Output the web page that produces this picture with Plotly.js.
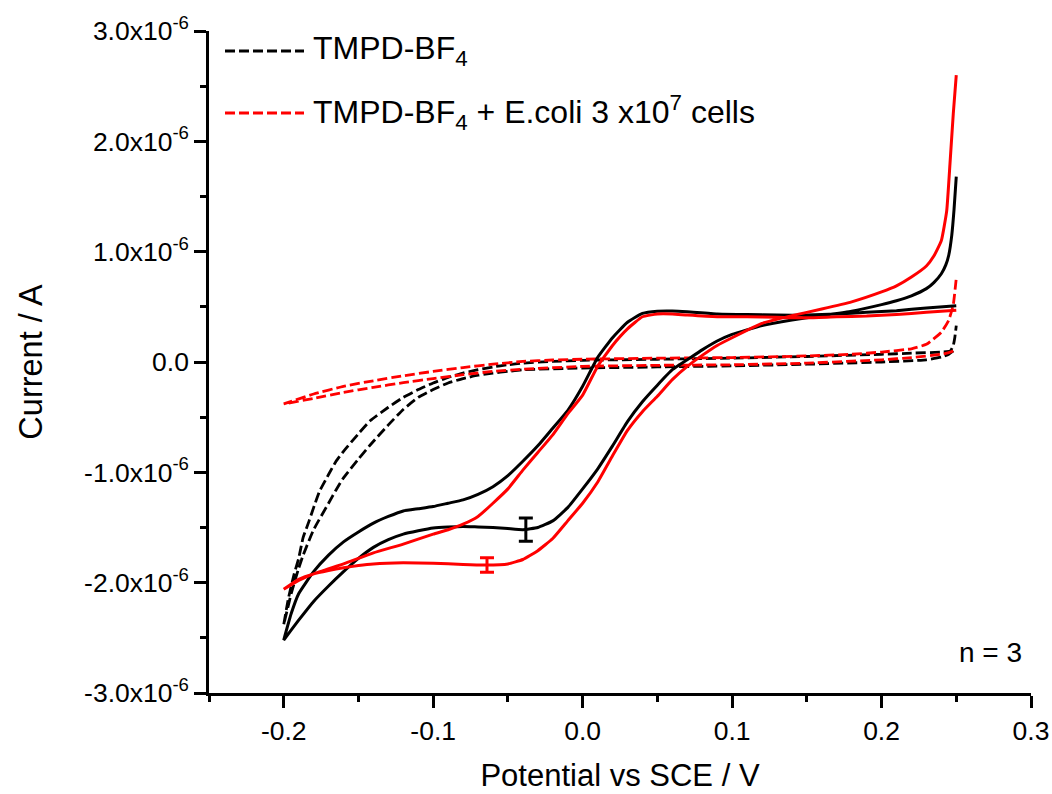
<!DOCTYPE html>
<html>
<head>
<meta charset="utf-8">
<script src="https://cdn.plot.ly/plotly-3.0.1.min.js"></script>
<style>html,body{margin:0;padding:0;background:#fff;}</style>
</head>
<body>
<div id="chart" style="width:1052px;height:794px;"></div>
<script>
// ---- data (potential in V, current in microampere) ----
// TMPD-BF4 (solid black), branch A scanned from +0.25 V back to -0.2 V
const blkA_x = [0.25,0.23,0.21,0.19,0.17,0.15,0.13,0.11,0.09,0.07,0.06,0.05,0.04,0.03,0.02,0.01,0.0,-0.01,-0.02,-0.03,-0.04,-0.05,-0.06,-0.07,-0.08,-0.09,-0.10,-0.11,-0.12,-0.13,-0.14,-0.15,-0.16,-0.17,-0.18,-0.19,-0.195,-0.20];
const blkA_y = [0.51,0.49,0.465,0.45,0.435,0.425,0.425,0.43,0.435,0.455,0.462,0.46,0.44,0.36,0.22,0.04,-0.22,-0.44,-0.60,-0.76,-0.90,-1.03,-1.13,-1.20,-1.25,-1.28,-1.31,-1.33,-1.35,-1.40,-1.46,-1.54,-1.63,-1.75,-1.90,-2.10,-2.28,-2.52];
// branch B scanned from -0.2 V to +0.25 V
const blkB_x = [-0.20,-0.19,-0.18,-0.17,-0.16,-0.15,-0.14,-0.13,-0.12,-0.11,-0.10,-0.09,-0.08,-0.07,-0.06,-0.05,-0.04,-0.03,-0.02,-0.01,0.0,0.01,0.02,0.03,0.04,0.05,0.06,0.07,0.08,0.09,0.10,0.12,0.14,0.16,0.18,0.20,0.21,0.22,0.23,0.235,0.24,0.243,0.245,0.247,0.2485,0.25];
const blkB_y = [-2.52,-2.34,-2.17,-2.03,-1.90,-1.78,-1.68,-1.61,-1.56,-1.53,-1.505,-1.495,-1.49,-1.495,-1.50,-1.51,-1.52,-1.50,-1.44,-1.32,-1.15,-0.97,-0.76,-0.54,-0.36,-0.21,-0.07,0.02,0.11,0.19,0.25,0.33,0.38,0.42,0.46,0.52,0.555,0.60,0.665,0.72,0.80,0.88,0.97,1.15,1.38,1.68];

// TMPD-BF4 + E.coli (solid red)
const redA_x = [0.25,0.23,0.21,0.19,0.17,0.15,0.13,0.11,0.09,0.07,0.06,0.05,0.04,0.03,0.02,0.01,0.0,-0.01,-0.02,-0.03,-0.04,-0.05,-0.06,-0.07,-0.08,-0.09,-0.10,-0.12,-0.14,-0.16,-0.18,-0.19,-0.20];
const redA_y = [0.47,0.45,0.43,0.416,0.41,0.40,0.405,0.41,0.41,0.425,0.435,0.435,0.41,0.30,0.15,-0.04,-0.30,-0.47,-0.66,-0.82,-0.98,-1.15,-1.28,-1.40,-1.47,-1.52,-1.56,-1.65,-1.73,-1.83,-1.92,-1.98,-2.06];
const redB_x = [-0.20,-0.19,-0.18,-0.17,-0.16,-0.15,-0.14,-0.12,-0.10,-0.08,-0.065,-0.05,-0.04,-0.03,-0.02,-0.01,0.0,0.01,0.02,0.03,0.04,0.05,0.06,0.07,0.08,0.09,0.10,0.12,0.14,0.16,0.18,0.20,0.21,0.22,0.23,0.235,0.24,0.2436,0.2458,0.248,0.25];
const redB_y = [-2.06,-1.97,-1.92,-1.89,-1.865,-1.845,-1.83,-1.82,-1.823,-1.835,-1.84,-1.83,-1.79,-1.71,-1.60,-1.44,-1.28,-1.09,-0.85,-0.62,-0.45,-0.31,-0.16,-0.04,0.06,0.15,0.22,0.35,0.42,0.48,0.545,0.635,0.69,0.77,0.87,0.96,1.10,1.37,1.80,2.25,2.60];

// dashed black: TMPD-BF4
const blkDA_x = [0.248,0.245,0.24,0.23,0.20,0.15,0.10,0.05,0.0,-0.04,-0.05,-0.06,-0.07,-0.08,-0.09,-0.10,-0.11,-0.12,-0.13,-0.142,-0.15,-0.16,-0.165,-0.17,-0.18,-0.187,-0.19,-0.195,-0.20];
const blkDA_y = [0.10,0.07,0.045,0.02,0.0,-0.02,-0.035,-0.045,-0.055,-0.07,-0.085,-0.10,-0.12,-0.15,-0.19,-0.25,-0.32,-0.43,-0.57,-0.75,-0.88,-1.05,-1.16,-1.28,-1.52,-1.75,-1.87,-2.10,-2.38];
const blkDB_x = [-0.20,-0.197,-0.193,-0.19,-0.187,-0.183,-0.18,-0.176,-0.17,-0.165,-0.16,-0.15,-0.142,-0.13,-0.12,-0.11,-0.10,-0.09,-0.08,-0.07,-0.06,-0.05,-0.04,-0.02,0.0,0.05,0.10,0.15,0.20,0.22,0.24,0.246,0.248,0.249,0.25];
const blkDB_y = [-2.38,-2.15,-1.92,-1.78,-1.59,-1.44,-1.32,-1.17,-1.02,-0.90,-0.81,-0.65,-0.53,-0.41,-0.32,-0.25,-0.19,-0.14,-0.10,-0.07,-0.045,-0.025,-0.01,0.005,0.015,0.025,0.035,0.05,0.07,0.08,0.09,0.10,0.15,0.22,0.33];

// dashed red: TMPD-BF4 + E.coli
const redDA_x = [0.248,0.245,0.24,0.22,0.20,0.15,0.10,0.05,0.0,-0.04,-0.06,-0.08,-0.10,-0.12,-0.14,-0.16,-0.18,-0.20];
const redDA_y = [0.10,0.085,0.07,0.04,0.02,-0.01,-0.025,-0.03,-0.04,-0.065,-0.085,-0.115,-0.15,-0.187,-0.23,-0.275,-0.33,-0.38];
const redDB_x = [-0.20,-0.18,-0.16,-0.14,-0.12,-0.10,-0.08,-0.06,-0.04,-0.02,0.0,0.05,0.10,0.15,0.18,0.20,0.22,0.23,0.24,0.245,0.248,0.25];
const redDB_y = [-0.38,-0.29,-0.22,-0.17,-0.125,-0.085,-0.05,-0.02,0.005,0.018,0.025,0.035,0.04,0.055,0.07,0.09,0.12,0.16,0.27,0.38,0.52,0.76];

// error bars (n = 3)
const errBlk = {x:[-0.038], y:[-1.52], e:[0.105]};
const errRed = {x:[-0.064], y:[-1.84], e:[0.065]};

// axis ticks
const xTickVals = [-0.2,-0.1,0.0,0.1,0.2,0.3];
const xTickText = ['-0.2','-0.1','0.0','0.1','0.2','0.3'];
const xMinor = [-0.25,-0.15,-0.05,0.05,0.15,0.25];
const yTickVals = [3,2,1,0,-1,-2,-3];
const yTickText = ['3.0x10<sup>-6</sup>','2.0x10<sup>-6</sup>','1.0x10<sup>-6</sup>','0.0','-1.0x10<sup>-6</sup>','-2.0x10<sup>-6</sup>','-3.0x10<sup>-6</sup>'];
const yMinor = [2.5,1.5,0.5,-0.5,-1.5,-2.5];

const legendNames = ['TMPD-BF<sub>4</sub>', 'TMPD-BF<sub>4</sub> + E.coli 3 x10<sup>7</sup> cells'];

// ---- build ----
const S = 1e-6;
const toA = a => a.map(v => v*S);
const RED = '#ff0000', BLK = '#000000';
function loop(ax, ay, bx, by){ return {x: ax.concat(bx), y: toA(ay.concat(by))}; }

const dBlk = loop(blkDA_x, blkDA_y, blkDB_x, blkDB_y);
const dRed = loop(redDA_x, redDA_y, redDB_x, redDB_y);
const sBlk = loop(blkA_x, blkA_y, blkB_x, blkB_y);
const sRed = loop(redA_x, redA_y, redB_x, redB_y);

const lineCommon = {type:'scatter', mode:'lines', hoverinfo:'skip', showlegend:false};
const traces = [
  Object.assign({}, lineCommon, {name:'TMPD-BF4', x:dBlk.x, y:dBlk.y, line:{color:BLK, width:2.8, dash:'10px,4px', shape:'spline', smoothing:0.4}}),
  Object.assign({}, lineCommon, {name:'TMPD-BF4 + E.coli 3 x10^7 cells', x:dRed.x, y:dRed.y, line:{color:RED, width:2.8, dash:'10px,4px', shape:'spline', smoothing:0.4}}),
  Object.assign({}, lineCommon, {name:'TMPD-BF4 (CV)', x:sBlk.x, y:sBlk.y, line:{color:BLK, width:3, shape:'spline', smoothing:0.4}}),
  Object.assign({}, lineCommon, {name:'TMPD-BF4 + E.coli (CV)', x:sRed.x, y:sRed.y, line:{color:RED, width:3, shape:'spline', smoothing:0.4}}),
  {type:'scatter', mode:'markers', x:errBlk.x, y:toA(errBlk.y), marker:{size:1, color:BLK, opacity:0}, showlegend:false, hoverinfo:'skip',
   error_y:{type:'data', array:toA(errBlk.e), visible:true, color:BLK, thickness:3, width:7}},
  {type:'scatter', mode:'markers', x:errRed.x, y:toA(errRed.y), marker:{size:1, color:RED, opacity:0}, showlegend:false, hoverinfo:'skip',
   error_y:{type:'data', array:toA(errRed.e), visible:true, color:RED, thickness:3, width:7}}
];

const FONT = 'Liberation Sans, Arial, Helvetica, sans-serif';
// plot area in px: x 209..1031, y 31..693
const px2paperX = p => (p - 209) / 822;
const px2paperY = p => (693 - p) / 662;

const legendRows = [{y:51, color:BLK}, {y:113, color:RED}];
const shapes = legendRows.map(r => ({type:'line', xref:'paper', yref:'paper',
  x0:px2paperX(225), x1:px2paperX(304), y0:px2paperY(r.y), y1:px2paperY(r.y),
  line:{color:r.color, width:2.8, dash:'10px,4px'}}));
const annotations = legendRows.map((r,i) => ({xref:'paper', yref:'paper', x:px2paperX(311), y:px2paperY(r.y),
  xanchor:'left', yanchor:'middle', showarrow:false, text:legendNames[i], font:{family:FONT, size:32, color:'black'}}));
annotations.push({xref:'paper', yref:'paper', x:px2paperX(1024), y:px2paperY(652), xanchor:'right', yanchor:'middle',
  showarrow:false, text:'n = 3', font:{family:FONT, size:28, color:'black'}});

const layout = {
  width:1052, height:794,
  margin:{l:209, r:21, t:31, b:101, pad:0},
  paper_bgcolor:'#ffffff', plot_bgcolor:'#ffffff',
  showlegend:false,
  font:{family:FONT, color:'#000000'},
  xaxis:{range:[-0.25,0.3], tickvals:xTickVals, ticktext:xTickText, ticks:'outside', ticklen:12, tickwidth:2.5, tickcolor:BLK,
    showline:true, linewidth:2.5, linecolor:BLK, showgrid:false, zeroline:false, tickfont:{family:FONT, size:26.5},
    minor:{tickvals:xMinor, ticks:'outside', ticklen:6, tickwidth:2.5, tickcolor:BLK, showgrid:false},
    title:{text:'Potential vs SCE / V', font:{family:FONT, size:31}, standoff:20}},
  yaxis:{range:[-3e-6,3e-6], tickvals:toA(yTickVals), ticktext:yTickText, ticks:'outside', ticklen:12, tickwidth:2.5, tickcolor:BLK,
    showline:true, linewidth:2.5, linecolor:BLK, showgrid:false, zeroline:false, tickfont:{family:FONT, size:26.5},
    minor:{tickvals:toA(yMinor), ticks:'outside', ticklen:6, tickwidth:2.5, tickcolor:BLK, showgrid:false},
    title:{text:'Current / A', font:{family:FONT, size:32.5}, standoff:32}},
  shapes:shapes,
  annotations:annotations
};

Plotly.newPlot('chart', traces, layout, {displayModeBar:false, responsive:false});
</script>
</body>
</html>
